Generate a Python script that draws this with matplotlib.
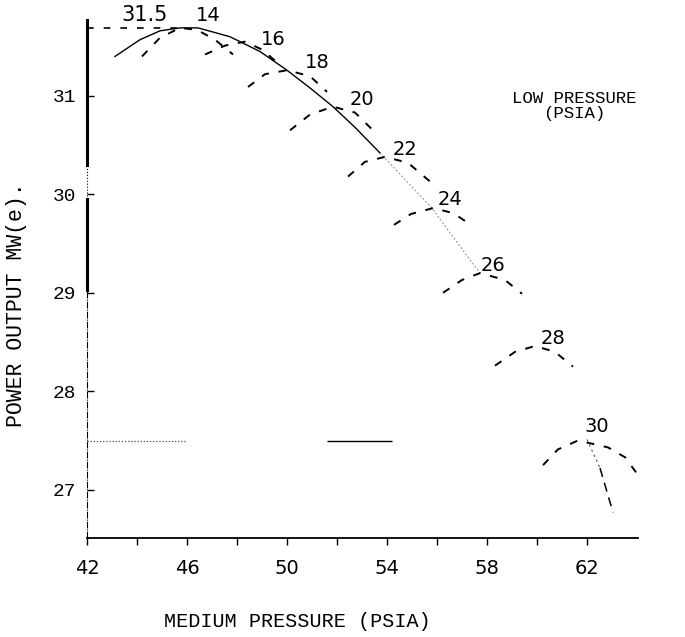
import matplotlib
matplotlib.use('Agg')
import matplotlib.pyplot as plt

mono = ['Liberation Mono', 'DejaVu Sans Mono']
narrow = ['Liberation Sans Narrow', 'DejaVu Sans']

# envelope (peak output for each low pressure)
env_x = [43.12, 44.12, 44.92, 45.72, 46.44, 47.72, 48.92, 50.0, 50.92, 51.84, 52.72, 53.72]
env_y = [31.40, 31.57, 31.66, 31.69, 31.69, 31.60, 31.45, 31.26, 31.08, 30.89, 30.68, 30.42]
# faint continuation of the envelope
env2_x = [53.72, 54.72, 55.8, 56.72, 57.72]
env2_y = [30.42, 30.15, 29.86, 29.54, 29.20]
env3_x = [62.0, 62.52, 63.04]
env3_y = [27.51, 27.22, 26.77]

# dashed curves, one per low pressure (psia)
arc14_x = [44.2, 44.92, 45.72, 46.4, 47.12, 47.84]
arc14_y = [31.40, 31.59, 31.69, 31.67, 31.57, 31.42]
arc16_x = [46.72, 47.52, 48.32, 49.0, 49.6]
arc16_y = [31.42, 31.51, 31.55, 31.47, 31.34]
arc18_x = [48.44, 49.12, 50.0, 50.92, 51.6]
arc18_y = [31.09, 31.22, 31.26, 31.20, 31.04]
arc20_x = [50.12, 50.92, 51.84, 52.72, 53.52]
arc20_y = [30.65, 30.81, 30.89, 30.83, 30.63]
arc22_x = [52.44, 53.12, 53.92, 54.84, 55.72]
arc22_y = [30.18, 30.33, 30.38, 30.32, 30.13]
arc24_x = [54.28, 54.96, 55.84, 56.64, 57.36]
arc24_y = [29.69, 29.80, 29.86, 29.81, 29.69]
arc26_x = [56.24, 57.0, 57.72, 58.72, 59.4]
arc26_y = [29.0, 29.13, 29.20, 29.13, 28.99]
arc28_x = [58.32, 59.12, 59.92, 60.72, 61.44]
arc28_y = [28.26, 28.40, 28.46, 28.40, 28.25]
arc30_x = [60.24, 60.84, 61.64, 62.84, 63.52, 64.04]
arc30_y = [27.25, 27.41, 27.50, 27.43, 27.33, 27.15]

arcs_x = [arc14_x, arc16_x, arc18_x, arc20_x, arc22_x, arc24_x, arc26_x, arc28_x, arc30_x]
arcs_y = [arc14_y, arc16_y, arc18_y, arc20_y, arc22_y, arc24_y, arc26_y, arc28_y, arc30_y]

# curve labels and where they sit
low_labels = ['14', '16', '18', '20', '22', '24', '26', '28', '30']
label_x = [46.84, 49.44, 51.2, 53.0, 54.72, 56.52, 58.24, 60.64, 62.4]
label_y = [31.82, 31.57, 31.34, 30.96, 30.45, 29.95, 29.28, 28.54, 27.64]

peak_value = 31.69
peak_x = 45.9
ref_y = 27.5

xticks = [42, 46, 50, 54, 58, 62]
xminor = [44, 48, 52, 56, 60]
yticks = [27, 28, 29, 30, 31]

fig = plt.figure(figsize=(6.85, 6.37), dpi=100)
ax = fig.add_axes([0.1270, 0.1554, 0.8044, 0.8132])
xmin, xmax = 42, 64.04
ymin, ymax = 26.51, 31.77
ax.set_xlim(xmin, xmax)
ax.set_ylim(ymin, ymax)

for sp in ['top', 'right', 'left']:
    ax.spines[sp].set_visible(False)
ax.spines['bottom'].set_linewidth(1.3)

# left axis drawn in pieces like the scan
def yf(v):
    return (v - ymin) / (ymax - ymin)

ax.axvline(42, yf(30.30), 1.0, color='k', lw=2.2, clip_on=False)
ax.axvline(42, yf(29.98), yf(30.30), color='k', lw=0.8, ls=':', clip_on=False)
ax.axvline(42, yf(29.03), yf(29.95), color='k', lw=2.2, clip_on=False)
ax.axvline(42, 0, yf(29.03), color='k', lw=0.8, ls=(0, (6, 1, 1, 1)), clip_on=False)

# envelope
ax.plot(env_x, env_y, color='k', lw=1.0, clip_on=False)
ax.plot(env2_x, env2_y, color='0.55', lw=0.7, ls=(0, (2, 2)), clip_on=False)
ax.plot(env3_x[:2], env3_y[:2], color='0.3', lw=0.8, ls=(0, (2, 3)), clip_on=False)
ax.plot(env3_x[1:], env3_y[1:], color='k', lw=1.1, ls=(0, (6, 4)), clip_on=False)

for xs, ys in zip(arcs_x, arcs_y):
    ax.plot(xs, ys, color='k', lw=1.4, ls=(0, (4, 5)), clip_on=False)

# dashed line to the peak
ax.hlines(peak_value, 42, peak_x, color='k', lw=1.2, ls=(0, (4, 6)), clip_on=False)
# reference marks at 27.5
ax.hlines(ref_y, 42, 46, color='0.3', lw=0.9, ls=(0, (1, 1.5)))
ax.hlines(ref_y, 51.6, 54.2, color='k', lw=1.0)

ax.text(44.32, 31.82, '31.5', fontsize=15, family=narrow, ha='center', va='center')
for lab, lx, ly in zip(low_labels, label_x, label_y):
    ax.text(lx, ly, lab, fontsize=14, family=narrow, ha='center', va='center')

ax.text(61.5, 30.90, 'LOW PRESSURE\n(PSIA)', fontsize=12.5, family=mono,
        ha='center', va='center', multialignment='center', linespacing=1.0)

ax.set_xticks(xticks)
ax.set_xticks(xminor, minor=True)
ax.set_xticklabels([str(t) for t in xticks], fontsize=14, family=narrow)
ax.tick_params(axis='x', which='both', direction='out', length=5, width=1, pad=10)
ax.set_yticks(yticks)
ax.set_yticklabels([str(t) for t in yticks], fontsize=14, family=mono)
ax.tick_params(axis='y', direction='in', length=5, width=1, pad=8)

ax.set_xlabel('MEDIUM PRESSURE (PSIA)', fontsize=14.5, family=mono)
ax.xaxis.set_label_coords(0.382, -0.143)
ax.set_ylabel('POWER OUTPUT MW(e).', fontsize=15.5, family=mono)
ax.yaxis.set_label_coords(-0.108, 0.45)

fig.savefig('out.png', dpi=100)
